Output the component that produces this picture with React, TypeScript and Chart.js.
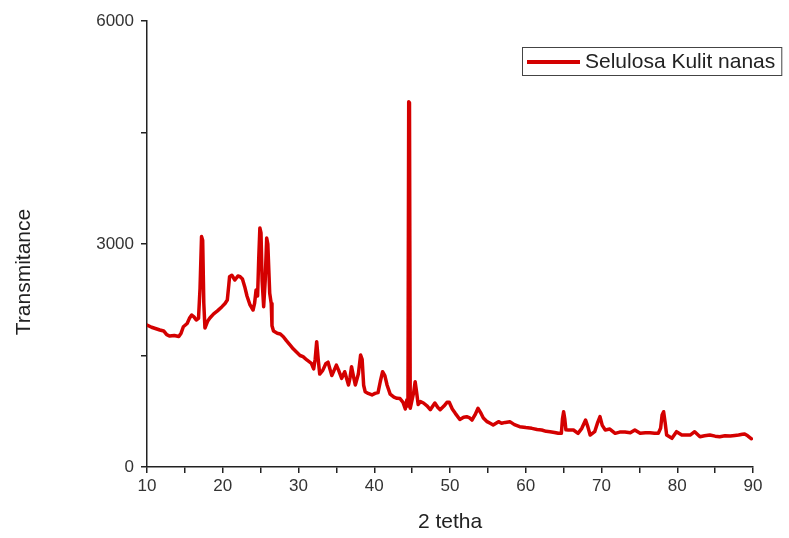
import { useEffect, useRef } from "react";
import { Chart, registerables } from "chart.js";

Chart.register(...registerables);

const seriesLabel = "Selulosa Kulit nanas";
const xTitle = "2 tetha";
const yTitle = "Transmitance";

const twoTheta = [
  10.0, 10.6, 11.2, 11.7, 12.2, 12.6, 13.0, 13.6, 14.2, 14.5, 14.8, 15.3, 15.6, 15.9, 16.2, 16.5, 16.8,
  17.0, 17.2, 17.35, 17.5, 17.65, 18.0, 18.3, 18.8, 19.3, 19.9, 20.3, 20.6, 20.8, 20.9, 21.2, 21.6,
  22.0, 22.3, 22.6, 22.9, 23.2, 23.6, 24.0, 24.2, 24.4, 24.6, 24.75, 24.9, 25.05, 25.2, 25.4, 25.6,
  25.8, 25.95, 26.2, 26.4, 26.5, 26.7, 27.2, 27.6, 28.0, 28.4, 28.9, 29.3, 29.8, 30.2, 30.6, 31.1,
  31.7, 32.0, 32.2, 32.4, 32.6, 32.8, 33.2, 33.6, 33.9, 34.2, 34.4, 34.7, 35.0, 35.3, 35.7, 36.1,
  36.6, 36.8, 37.0, 37.3, 37.5, 37.9, 38.2, 38.4, 38.6, 38.8, 39.2, 39.7, 40.1, 40.5, 40.8, 41.1,
  41.4, 41.7, 42.1, 42.6, 43.0, 43.4, 43.8, 44.1, 44.3, 44.45, 44.55, 44.65, 44.75, 44.9, 45.2, 45.4,
  45.6, 45.8, 46.1, 46.5, 47.0, 47.4, 48.0, 48.4, 48.7, 49.2, 49.6, 49.9, 50.3, 50.7, 51.3, 51.8,
  52.2, 52.6, 52.9, 53.3, 53.7, 54.1, 54.4, 54.9, 55.3, 55.7, 56.4, 56.8, 57.3, 57.9, 58.5, 59.2,
  60.0, 60.8, 61.5, 62.1, 62.7, 63.2, 63.8, 64.3, 64.7, 64.85, 65.0, 65.15, 65.3, 65.6, 66.3, 66.9,
  67.4, 67.9, 68.2, 68.5, 69.1, 69.5, 69.8, 70.1, 70.5, 71.1, 71.8, 72.4, 73.1, 73.8, 74.4, 75.1,
  75.8, 76.4, 77.0, 77.5, 77.8, 78.0, 78.2, 78.4, 78.6, 79.3, 79.9, 80.6, 81.2, 81.7, 82.3, 83.0,
  83.6, 84.3, 85.0, 85.6, 86.3, 87.0, 87.6, 88.1, 88.6, 88.9, 89.3, 89.8,
];

const intensity = [
  1910, 1880, 1860, 1843, 1830, 1780, 1762, 1770, 1755, 1800, 1887, 1930, 2000, 2045, 2020, 1978, 2000,
  2400, 3100, 3050, 2200, 1870, 1960, 2004, 2060, 2100, 2157, 2200, 2247, 2450, 2560, 2580, 2516,
  2570, 2560, 2530, 2426, 2300, 2180, 2112, 2200, 2381, 2300, 2800, 3215, 3150, 2500, 2157, 2500,
  3081, 3000, 2336, 2200, 1900, 1830, 1800, 1790, 1753, 1700, 1640, 1590, 1540, 1500, 1484, 1440,
  1395, 1320, 1450, 1686, 1450, 1250, 1300, 1390, 1410, 1300, 1230, 1300, 1370, 1300, 1193, 1282,
  1103, 1200, 1350, 1200, 1103, 1250, 1507, 1450, 1100, 1013, 990, 969, 990, 1000, 1150, 1282,
  1230, 1100, 980, 940, 924, 920, 870, 780, 900, 820, 4915, 4900, 790, 860, 1000, 1148,
  1000, 840, 880, 861, 820, 770, 861, 800, 770, 820, 870, 870, 780, 722, 640, 670,
  677, 660, 632, 700, 790, 720, 660, 610, 588, 565, 610, 588, 600, 610, 570, 542,
  530, 520, 505, 498, 480, 475, 465, 453, 453, 650, 744, 650, 500, 498, 498, 453,
  520, 632, 540, 430, 475, 600, 677, 560, 498, 510, 453, 470, 470, 461, 498, 453,
  460, 461, 455, 453, 520, 700, 744, 600, 430, 386, 475, 430, 430, 430, 475, 408,
  420, 430, 415, 408, 420, 417, 425, 430, 440, 444, 420, 380,
];

const xMin = 10;
const xMax = 90;
const xStep = 5;
const xLabelEvery = 10;
const yMin = 0;
const yMax = 6000;
const yStep = 1500;
const yLabelEvery = 3000;

const FONT = '"Liberation Sans", Arial, Helvetica, sans-serif';

const overlayPlugin = {
  id: "overlay",
  afterDraw(chart: any) {
    const ctx = chart.ctx;
    const ds = chart.data.datasets[0];
    ctx.save();
    // legend box
    ctx.font = `21px ${FONT}`;
    const tw = ctx.measureText(ds.label).width;
    const boxLeft = 522;
    const boxTop = 47;
    const boxH = 28;
    const lineW = 53;
    const textX = boxLeft + 5 + lineW + 5;
    const boxW = textX + tw + 6 - boxLeft;
    ctx.fillStyle = "#ffffff";
    ctx.fillRect(boxLeft, boxTop, boxW, boxH);
    ctx.strokeStyle = "#444";
    ctx.lineWidth = 1;
    ctx.strokeRect(boxLeft + 0.5, boxTop + 0.5, boxW, boxH);
    ctx.strokeStyle = ds.borderColor;
    ctx.lineWidth = 4;
    ctx.beginPath();
    ctx.moveTo(boxLeft + 5, boxTop + boxH / 2 + 1);
    ctx.lineTo(boxLeft + 5 + lineW, boxTop + boxH / 2 + 1);
    ctx.stroke();
    ctx.fillStyle = "#222";
    ctx.textBaseline = "middle";
    ctx.textAlign = "left";
    ctx.fillText(ds.label, textX, boxTop + boxH / 2 + 1);
    // y title
    ctx.translate(24, 272);
    ctx.rotate(-Math.PI / 2);
    ctx.textAlign = "center";
    ctx.textBaseline = "middle";
    ctx.fillText(yTitle, 0, 0);
    ctx.restore();
  },
};

export default function App() {
  const ref = useRef<HTMLCanvasElement>(null);
  useEffect(() => {
    if (!ref.current) return;
    const points = twoTheta.map((x, i) => ({ x, y: intensity[i] }));
    const chart = new Chart(ref.current, {
      type: "line",
      data: {
        datasets: [
          {
            label: seriesLabel,
            data: points,
            borderColor: "#d40000",
            borderWidth: 3.5,
            borderJoinStyle: "round",
            borderCapStyle: "round",
            pointRadius: 0,
            tension: 0,
            fill: false,
          },
        ],
      },
      options: {
        responsive: false,
        animation: false,
        layout: { padding: { top: 21, right: 36, left: 0, bottom: 0 } },
        plugins: { legend: { display: false }, tooltip: { enabled: false } },
        scales: {
          x: {
            type: "linear",
            min: xMin,
            max: xMax,
            afterFit: (s: any) => {
              s.height = 71;
            },
            ticks: {
              stepSize: xStep,
              autoSkip: false,
              maxRotation: 0,
              padding: 3,
              color: "#333",
              font: { size: 17, family: FONT },
              callback: (v: any) => (Number(v) % xLabelEvery === 0 ? String(v) : ""),
            },
            grid: { display: true, drawOnChartArea: false, drawTicks: true, tickLength: 6, color: "#222", lineWidth: 1.5 },
            border: { display: true, color: "#222", width: 1.5 },
            title: {
              display: true,
              text: xTitle,
              color: "#222",
              font: { size: 21, family: FONT },
              padding: { top: 0, bottom: 3 },
            },
          },
          y: {
            type: "linear",
            min: yMin,
            max: yMax,
            afterFit: (s: any) => {
              s.width = 147;
            },
            ticks: {
              stepSize: yStep,
              autoSkip: false,
              padding: 7,
              color: "#333",
              font: { size: 17, family: FONT },
              callback: (v: any) => (Number(v) % yLabelEvery === 0 ? String(v) : ""),
            },
            grid: { display: true, drawOnChartArea: false, drawTicks: true, tickLength: 6, color: "#222", lineWidth: 1.5 },
            border: { display: true, color: "#222", width: 1.5 },
          },
        },
      },
      plugins: [overlayPlugin],
    });
    return () => chart.destroy();
  }, []);
  return (
    <div style={{ position: "absolute", left: 0, top: 0, width: 789, height: 538, background: "#fff" }}>
      <canvas ref={ref} width={789} height={538} style={{ display: "block" }} />
    </div>
  );
}
